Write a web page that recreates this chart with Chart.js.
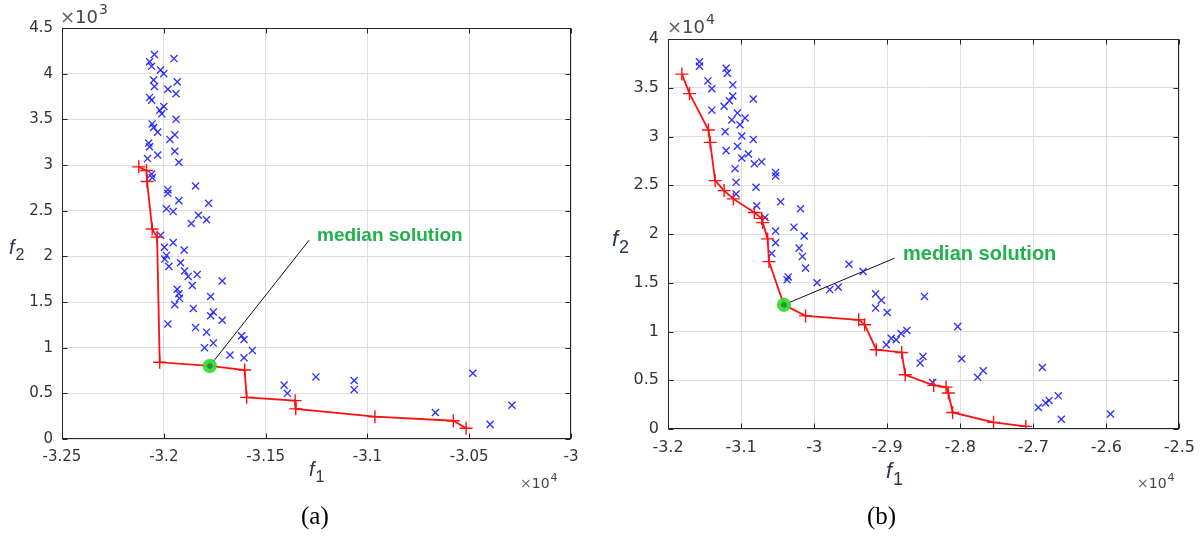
<!DOCTYPE html>
<html>
<head>
<meta charset="utf-8">
<script src="https://cdn.jsdelivr.net/npm/chart.js@4.4.1/dist/chart.umd.min.js"></script>
<style>
  html,body{margin:0;padding:0;background:#fff;width:1204px;height:537px;overflow:hidden;}
  canvas{position:absolute;left:0;top:0;}
  .cap{position:absolute;top:502px;font-family:"Liberation Serif","Times New Roman",serif;font-size:25px;color:#000;}
</style>
</head>
<body>
<canvas id="cA" width="1204" height="537"></canvas>
<canvas id="cB" width="1204" height="537"></canvas>
<div class="cap" style="left:301px">(a)</div>
<div class="cap" style="left:867px">(b)</div>
<script>
// ---------- DATA: chart (a) ----------
const aBlueF1 = [-32046,-31950,-32070,-32060,-32016,-32000,-31934,-32050,-32046,-31980,-31940,-32070,-32060,-32000,-32020,-32010,-31940,-32057,-32050,-32030,-31946,-31970,-32074,-32070,-31946,-32030,-32080,-31926,-32060,-32057,-31844,-31980,-31980,-31926,-31780,-31987,-31954,-31830,-31790,-31865,-32016,-31954,-31997,-31900,-31987,-31995,-31975,-31918,-31898,-31880,-31836,-31860,-31713,-31934,-31926,-31923,-31946,-31770,-31855,-31757,-31770,-31713,-31980,-31844,-31790,-31757,-31800,-31618,-31606,-31565,-31675,-31606,-31409,-31393,-31253,-31065,-31065,-30666,-30482,-30397,-30290];
const aBlueF2 = [4210,4165,4130,4080,4040,4000,3910,3930,3860,3830,3780,3740,3710,3640,3600,3560,3500,3450,3410,3360,3330,3280,3240,3200,3150,3110,3070,3030,2900,2860,2770,2730,2690,2610,2580,2520,2490,2450,2400,2360,2230,2150,2100,2070,2010,1970,1890,1930,1840,1780,1800,1680,1730,1640,1590,1540,1470,1560,1430,1390,1350,1300,1260,1220,1170,1050,1000,1130,1090,970,920,890,590,500,680,640,540,290,720,160,370];
const aFrontF1 = [-32123,-32085,-32082,-32057,-32033,-32020,-31774,-31603,-31593,-31355,-31352,-30963,-30578,-30515];
const aFrontF2 = [2980,2940,2820,2300,2210,840,800,755,456,420,330,244,200,117];
const aMedian = [-31774, 800];
const aLabelAnchor = [-31286, 2177];
const aXTicks = [-32500,-32000,-31500,-31000,-30500,-30000];
const aYTicks = [0,500,1000,1500,2000,2500,3000,3500,4000,4500];

// ---------- DATA: chart (b) ----------
const bBlueF1 = [-31569,-31569,-31205,-31187,-31454,-31113,-31400,-31113,-30832,-31160,-31232,-31400,-31050,-30945,-31127,-31014,-31218,-30990,-30832,-31050,-31205,-30900,-30990,-30818,-30718,-31082,-30527,-30527,-31068,-30795,-31068,-30458,-30786,-30186,-30673,-30277,-30527,-30136,-30527,-30205,-30580,-30160,-30117,-30355,-30370,-29960,-29523,-29330,-29786,-29670,-29158,-29080,-29158,-28999,-28490,-29012,-28944,-28876,-28810,-28730,-28548,-28510,-28035,-27980,-27685,-27762,-28377,-26876,-26930,-26830,-26784,-26658,-26617,-25943];
const bBlueF2 = [37660,37200,37000,36500,35700,35300,34900,34150,33850,33670,33100,32700,32400,31900,31700,31200,30500,30050,29700,29000,28550,28200,27800,27200,27400,26700,26300,25950,25300,24800,24100,23300,22900,22600,21700,20700,20300,19800,19100,18550,18000,17700,16500,15600,15300,15000,16900,16150,14300,14550,13860,13200,12400,11950,13600,8640,9300,9150,9800,10100,6760,7440,10500,7200,5970,5300,4770,6310,2200,2660,2930,3400,1000,1540];
const bFrontF1 = [-31810,-31705,-31446,-31423,-31355,-31232,-31105,-30818,-30718,-30704,-30636,-30618,-30413,-30117,-29390,-29308,-29149,-28800,-28753,-28363,-28194,-28162,-28104,-27544,-27102];
const bFrontF2 = [36400,34400,30670,29400,25470,24450,23600,22200,21600,21170,19500,17170,12740,11600,11200,10700,8130,7850,5560,4470,4300,3690,1700,680,270];
const bMedian = [-30413, 12740];
const bLabelAnchor = [-28899, 17520];
const bXTicks = [-32000,-31000,-30000,-29000,-28000,-27000,-26000,-25000];
const bYTicks = [0,5000,10000,15000,20000,25000,30000,35000,40000];

const zip = (xs, ys) => xs.map((v, i) => ({x: v, y: ys[i]}));

// ---------- plugin: frame, inward ticks, labels, annotation ----------
const decor = {
  id: 'decor',
  beforeDatasetsDraw(chart, args, o) {
    const {ctx, scales: {x, y}} = chart;
    ctx.save();
    ctx.strokeStyle = '#111';
    ctx.lineWidth = 1;
    ctx.beginPath();
    ctx.moveTo(x.getPixelForValue(o.median[0]), y.getPixelForValue(o.median[1]));
    ctx.lineTo(x.getPixelForValue(o.anchor[0]), y.getPixelForValue(o.anchor[1]));
    ctx.stroke();
    ctx.restore();
  },
  afterDraw(chart, args, o) {
    const {ctx, chartArea: ca, scales: {x, y}} = chart;
    ctx.save();
    const L = Math.round(ca.left) + 0.5, R = Math.round(ca.right) - 0.5;
    const T = Math.round(ca.top) + 0.5, B = Math.round(ca.bottom) - 0.5;
    ctx.strokeStyle = '#262626';
    ctx.lineWidth = 1;
    ctx.strokeRect(L, T, R - L, B - T);
    ctx.beginPath();
    o.xTicks.forEach(v => {
      const p = Math.round(x.getPixelForValue(v)) + 0.5;
      ctx.moveTo(p, B); ctx.lineTo(p, B - 5);
      ctx.moveTo(p, T); ctx.lineTo(p, T + 5);
    });
    o.yTicks.forEach(v => {
      const p = Math.round(y.getPixelForValue(v)) + 0.5;
      ctx.moveTo(L, p); ctx.lineTo(L + 5, p);
      ctx.moveTo(R, p); ctx.lineTo(R - 5, p);
    });
    ctx.stroke();

    // exponent labels
    const expo = (xp, yp, base, sup, size) => {
      ctx.fillStyle = '#666';
      ctx.textBaseline = 'alphabetic';
      ctx.textAlign = 'left';
      ctx.font = size + 'px "DejaVu Sans", sans-serif';
      ctx.fillText('\u00d7', xp, yp);
      const w1 = ctx.measureText('\u00d7').width;
      ctx.fillStyle = '#444';
      ctx.fillText(base, xp + w1, yp);
      const w2 = ctx.measureText(base).width;
      ctx.font = Math.round(size * 0.75) + 'px "DejaVu Sans", sans-serif';
      ctx.fillText(sup, xp + w1 + w2 + 1, yp - size * 0.5);
    };
    expo(o.topExp[0], o.topExp[1], '10', o.topExp[2], o.topExp[3]);
    expo(o.botExp[0], o.botExp[1], '10', o.botExp[2], o.botExp[3]);

    // axis titles (italic f with subscripts)
    const title = (xp, yp, sub, size) => {
      ctx.fillStyle = '#2b3550';
      ctx.textAlign = 'left';
      ctx.textBaseline = 'alphabetic';
      ctx.font = 'italic ' + size + 'px "Liberation Sans", Arial, sans-serif';
      ctx.fillText('f', xp, yp);
      const w = ctx.measureText('f').width;
      ctx.font = Math.round(size * 0.8) + 'px "Liberation Sans", Arial, sans-serif';
      ctx.fillText(sub, xp + w + 1, yp + size * 0.3);
    };
    title(o.f1[0], o.f1[1], '1', o.f1[2]);
    title(o.f2[0], o.f2[1], '2', o.f2[2]);

    // median label
    ctx.fillStyle = '#20b04c';
    ctx.font = 'bold ' + o.labelSize + 'px "Liberation Sans", Arial, sans-serif';
    ctx.textAlign = 'left';
    ctx.textBaseline = 'middle';
    ctx.fillText('median solution', o.labelPos[0], o.labelPos[1]);
    ctx.restore();
  }
};

function makeChart(id, cfg) {
  const fmt = (v, div, d) => Number((v / div).toFixed(d)).toString();
  return new Chart(document.getElementById(id), {
    type: 'scatter',
    data: {
      datasets: [
        {data: [{x: cfg.median[0], y: cfg.median[1]}], pointStyle: 'circle', pointRadius: 2.8,
         backgroundColor: '#2f8f40', borderWidth: 0, showLine: false},
        {data: [{x: cfg.median[0], y: cfg.median[1]}], pointStyle: 'circle', pointRadius: 6.8,
         backgroundColor: 'rgba(45,228,45,0.92)', borderColor: 'rgba(60,200,60,0.6)', borderWidth: 1, showLine: false},
        {data: cfg.front, showLine: true, borderColor: '#ff1010', borderWidth: 1.8,
         pointStyle: 'cross', pointRadius: 6.5, pointBorderColor: '#ff1010', pointBorderWidth: 1.4,
         backgroundColor: 'transparent', tension: 0},
        {data: cfg.blue, showLine: false, pointStyle: 'crossRot', pointRadius: 5,
         pointBorderColor: 'rgba(20,20,255,0.88)', pointBorderWidth: 1.35, backgroundColor: 'transparent'}
      ]
    },
    options: {
      responsive: false,
      animation: false,
      events: [],
      layout: {padding: cfg.padding},
      plugins: {legend: {display: false}, tooltip: {enabled: false}, decor: cfg.decor},
      scales: {
        x: {
          type: 'linear', min: cfg.xMin, max: cfg.xMax,
          afterBuildTicks: s => { s.ticks = cfg.xTicks.map(v => ({value: v})); },
          afterFit: s => { s.height = 30; },
          grid: {color: '#dedede', lineWidth: 1, drawTicks: false},
          border: {display: false},
          ticks: {padding: 9, color: '#333', font: {family: '"DejaVu Sans", sans-serif', size: cfg.tickSize},
                  callback: v => fmt(v, 1e4, 3), maxRotation: 0, autoSkip: false}
        },
        y: {
          type: 'linear', min: cfg.yMin, max: cfg.yMax,
          afterBuildTicks: s => { s.ticks = cfg.yTicks.map(v => ({value: v})); },
          afterFit: s => { s.width = cfg.yWidth; },
          grid: {color: '#dedede', lineWidth: 1, drawTicks: false},
          border: {display: false},
          ticks: {padding: 9, color: '#333', font: {family: '"DejaVu Sans", sans-serif', size: cfg.tickSize},
                  callback: v => fmt(v, cfg.yDiv, 3), autoSkip: false}
        }
      }
    },
    plugins: [decor]
  });
}

makeChart('cA', {
  blue: zip(aBlueF1, aBlueF2), front: zip(aFrontF1, aFrontF2), median: aMedian,
  xMin: -32500, xMax: -30000, yMin: 0, yMax: 4500, yDiv: 1e3,
  xTicks: aXTicks, yTicks: aYTicks, tickSize: 15, yWidth: 62,
  padding: {left: 0, top: 28, right: 633, bottom: 68},
  decor: {median: aMedian, anchor: aLabelAnchor, xTicks: aXTicks, yTicks: aYTicks,
          topExp: [60, 23, '3', 18], botExp: [520, 488, '4', 14],
          f1: [309, 476, 20], f2: [9, 254, 20],
          labelSize: 19, labelPos: [317, 236]}
});

makeChart('cB', {
  blue: zip(bBlueF1, bBlueF2), front: zip(bFrontF1, bFrontF2), median: bMedian,
  xMin: -32000, xMax: -25000, yMin: 0, yMax: 40000, yDiv: 1e4,
  xTicks: bXTicks, yTicks: bYTicks, tickSize: 16, yWidth: 64,
  padding: {left: 604, top: 39, right: 22, bottom: 78},
  decor: {median: bMedian, anchor: bLabelAnchor, xTicks: bXTicks, yTicks: bYTicks,
          topExp: [667, 33, '4', 18], botExp: [1137, 488, '4', 14],
          f1: [886, 478, 22], f2: [612, 246, 22],
          labelSize: 20, labelPos: [903, 254]}
});
</script>
</body>
</html>
